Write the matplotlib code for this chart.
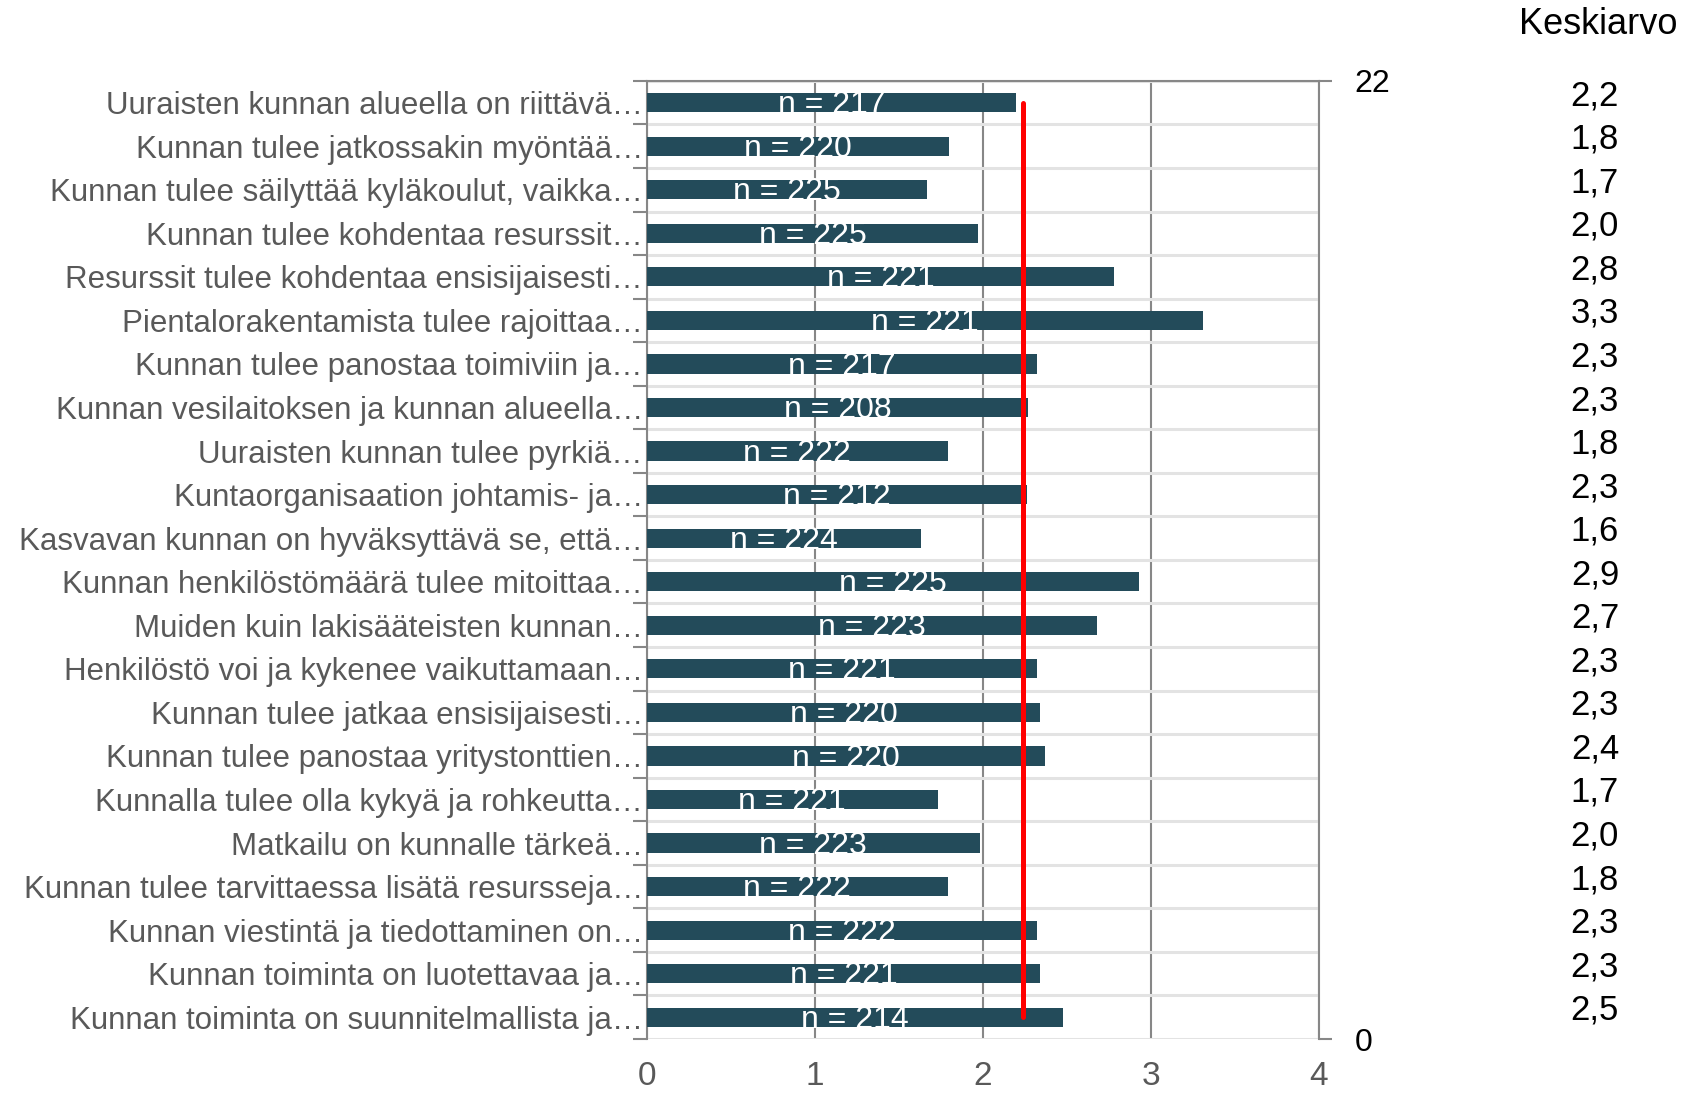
import numpy as np
import matplotlib
matplotlib.use("Agg")
import matplotlib.pyplot as plt
from matplotlib import font_manager

# =============================================
#                   DATOS
# =============================================

vaitteet = [
    "Uuraisten kunnan alueella on riittävä…",
    "Kunnan tulee jatkossakin myöntää…",
    "Kunnan tulee säilyttää kyläkoulut, vaikka…",
    "Kunnan tulee kohdentaa resurssit…",
    "Resurssit tulee kohdentaa ensisijaisesti…",
    "Pientalorakentamista tulee rajoittaa…",
    "Kunnan tulee panostaa toimiviin ja…",
    "Kunnan vesilaitoksen ja kunnan alueella…",
    "Uuraisten kunnan tulee pyrkiä…",
    "Kuntaorganisaation johtamis- ja…",
    "Kasvavan kunnan on hyväksyttävä se, että…",
    "Kunnan henkilöstömäärä tulee mitoittaa…",
    "Muiden kuin lakisääteisten kunnan…",
    "Henkilöstö voi ja kykenee vaikuttamaan…",
    "Kunnan tulee jatkaa ensisijaisesti…",
    "Kunnan tulee panostaa yritystonttien…",
    "Kunnalla tulee olla kykyä ja rohkeutta…",
    "Matkailu on kunnalle tärkeä…",
    "Kunnan tulee tarvittaessa lisätä resursseja…",
    "Kunnan viestintä ja tiedottaminen on…",
    "Kunnan toiminta on luotettavaa ja…",
    "Kunnan toiminta on suunnitelmallista ja…",
]

keskiarvot = [2.20, 1.80, 1.67, 1.97, 2.78, 3.31, 2.32, 2.27, 1.79, 2.26, 1.63,
              2.93, 2.68, 2.32, 2.34, 2.37, 1.73, 1.98, 1.79, 2.32, 2.34, 2.48]

vastaajat = [217, 220, 225, 225, 221, 221, 217, 208, 222, 212, 224,
             225, 223, 221, 220, 220, 221, 223, 222, 222, 221, 214]

x_tikit = [0, 1, 2, 3, 4]
oikea_tikit = [0, 22]

# =============================================
#                   ASETUKSET
# =============================================

saatavilla = {f.name for f in font_manager.fontManager.ttflist}
fontti = "Liberation Sans Narrow" if "Liberation Sans Narrow" in saatavilla else "Liberation Sans"
plt.rcParams["font.family"] = [fontti, "DejaVu Sans"]

palkki_vari = "#234b5a"
harmaa = "#595959"
viiva_harmaa = "#878787"
vaalea = "#e3e3e3"

n = len(vaitteet)
ypos = np.arange(n)[::-1]  # ylin palkki ylös

fig = plt.figure(figsize=(16.83, 10.93), dpi=100)
ax = fig.add_axes([0.3845, 0.0494, 0.3990, 0.8766])

ax.barh(ypos, keskiarvot, height=0.44, color=palkki_vari, zorder=3)

for y, v, nn in zip(ypos, keskiarvot, vastaajat):
    ax.text(v / 2, y - 0.06, "n = %d" % nn, color="white", fontsize=23,
            ha="center", va="center", zorder=4)

ax.set_xlim(0, 4)
ax.set_ylim(-0.5, n - 0.5)
ax.set_xticks(x_tikit)
ax.set_xticklabels([str(t) for t in x_tikit])
ax.set_yticks(ypos)
ax.set_yticklabels(vaitteet)
ax.set_yticks(np.arange(n + 1) - 0.5, minor=True)

ax.tick_params(axis="y", which="major", length=0, pad=3, labelsize=22.5, labelcolor=harmaa)
ax.tick_params(axis="y", which="minor", length=10, width=1.5, color=viiva_harmaa, direction="out")
ax.tick_params(axis="x", length=0, pad=16, labelsize=24, labelcolor=harmaa)

ax.grid(axis="x", color=viiva_harmaa, lw=1.5, zorder=1)
ax.grid(axis="y", which="minor", color=vaalea, lw=2.2, zorder=1)
ax.set_axisbelow(True)

for s in ["top", "left"]:
    ax.spines[s].set_color(viiva_harmaa)
    ax.spines[s].set_linewidth(1.5)
ax.spines["bottom"].set_visible(False)
ax.spines["right"].set_visible(False)

# Toissijainen akseli punaiselle keskiarvoviivalle
ax2 = ax.twinx()
ax2.set_ylim(0, 22)
ax2.set_yticks(oikea_tikit)
ax2.set_yticklabels([str(t) for t in oikea_tikit])
ax2.tick_params(axis="y", length=9, width=1.5, color=viiva_harmaa, pad=17, labelsize=23)
for s in ["top", "left", "bottom"]:
    ax2.spines[s].set_visible(False)
ax2.spines["right"].set_color(viiva_harmaa)
ax2.spines["right"].set_linewidth(1.5)

ka = np.mean(keskiarvot)
ax2.plot([ka] * n, np.arange(n) + 0.5, color="red", lw=3.6,
         solid_capstyle="round", zorder=5)

# Keskiarvo-sarake
fig.text(0.9965, 0.978, "Keskiarvo", fontsize=26, ha="right", va="center")
for y, v in zip(ypos, keskiarvot):
    px = ax.transData.transform((0, y))
    yf = fig.transFigure.inverted().transform((0, px[1] + 7))[1]
    fig.text(0.962, yf, ("%.1f" % v).replace(".", ","), fontsize=25,
             ha="right", va="center", family=["Liberation Sans", "DejaVu Sans"])

plt.savefig("out.png", dpi=100)
